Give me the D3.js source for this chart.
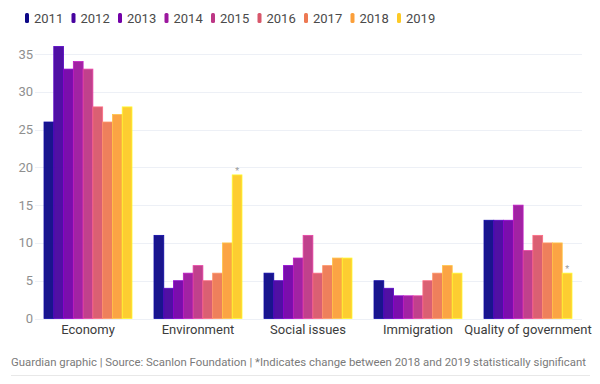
<!DOCTYPE html>
<meta charset="utf-8">
<style>

body {
  margin: 0;
  background: #fff;
  font-family: Roboto, "Liberation Sans", sans-serif;
}

.grid line {
  stroke: #edf0f6;
  stroke-width: 1px;
}

.ytick {
  fill: #8f8f8f;
  font-size: 13px;
}

.cat {
  fill: #3c3c3c;
  font-size: 13px;
}

.legend text {
  fill: #4a4a4a;
  font-size: 13px;
}

.footer {
  fill: #7a7a7a;
  font-size: 11.5px;
}

</style>
<body>
<script src="https://d3js.org/d3.v7.min.js"></script>
<script>

var width = 600,
    height = 384;

var years = ["2011", "2012", "2013", "2014", "2015", "2016", "2017", "2018", "2019"];
var categories = ["Economy", "Environment", "Social issues", "Immigration", "Quality of government"];

// one row per category, one value per year
var economy     = [26, 36, 33, 34, 33, 28, 26, 27, 28];
var environment = [11, 4, 5, 6, 7, 5, 6, 10, 19];
var social      = [6, 5, 7, 8, 11, 6, 7, 8, 8];
var immigration = [5, 4, 3, 3, 3, 5, 6, 7, 6];
var quality     = [13, 13, 13, 15, 9, 11, 10, 10, 6];

var yTicks = [0, 5, 10, 15, 20, 25, 30, 35];

// categories where the 2018 -> 2019 change is significant
var significant = ["Environment", "Quality of government"];

var colours = ["#0d0887", "#47039f", "#7301a8", "#9c179e", "#bd3786",
               "#d8576b", "#ed7953", "#fb9f3a", "#fdca26"];

var rows = [economy, environment, social, immigration, quality];

var svg = d3.select("body").append("svg")
    .attr("width", width)
    .attr("height", height);

var x0 = d3.scaleBand()
    .domain(categories)
    .range([33, 583])
    .paddingInner(0.2)
    .paddingOuter(0.1);

var x1 = d3.scaleBand()
    .domain(years)
    .range([0, x0.bandwidth()]);

var y = d3.scaleLinear()
    .domain([0, 35])
    .range([318.5, 54]);

var colour = d3.scaleOrdinal()
    .domain(years)
    .range(colours);

// gridlines
svg.append("g")
    .attr("class", "grid")
  .selectAll("line")
  .data(yTicks)
  .enter().append("line")
    .attr("x1", 35)
    .attr("x2", 582)
    .attr("y1", function(d) { return Math.round(y(d)) + 0.5; })
    .attr("y2", function(d) { return Math.round(y(d)) + 0.5; });

svg.append("g")
  .selectAll("text")
  .data(yTicks)
  .enter().append("text")
    .attr("class", "ytick")
    .attr("x", 33)
    .attr("y", function(d) { return y(d) + 4.5; })
    .attr("text-anchor", "end")
    .text(function(d) { return d; });

// bars
var group = svg.append("g")
  .selectAll("g")
  .data(categories)
  .enter().append("g")
    .attr("transform", function(d) { return "translate(" + x0(d) + ",0)"; });

group.selectAll("rect")
  .data(function(d, i) {
    return years.map(function(yr, j) { return {year: yr, value: rows[i][j]}; });
  })
  .enter().append("rect")
    .attr("x", function(d) { return x1(d.year); })
    .attr("y", function(d) { return y(d.value); })
    .attr("width", x1.bandwidth())
    .attr("height", function(d) { return y(0) - y(d.value); })
    .attr("fill", function(d) { return colour(d.year); })
    .attr("fill-opacity", 0.95)
    .attr("stroke", function(d) { return d3.color(colour(d.year)).brighter(0.6); })
    .attr("stroke-width", 0.8);

// asterisks on 2019 bars
group.filter(function(d) { return significant.indexOf(d) >= 0; })
  .append("text")
    .attr("x", x1("2019") + x1.bandwidth() / 2)
    .attr("y", function(d) {
      var row = rows[categories.indexOf(d)];
      return y(row[8]) - 1;
    })
    .attr("text-anchor", "middle")
    .attr("fill", "#999")
    .style("font-size", "9px")
    .text("*");

// category labels
svg.append("g")
  .selectAll("text")
  .data(categories)
  .enter().append("text")
    .attr("class", "cat")
    .attr("x", function(d) { return x0(d) + x0.bandwidth() / 2; })
    .attr("y", 334)
    .attr("text-anchor", "middle")
    .text(function(d) { return d; });

// legend
var legend = svg.append("g")
    .attr("class", "legend")
  .selectAll("g")
  .data(years)
  .enter().append("g")
    .attr("transform", function(d, i) { return "translate(" + (25 + i * 46.5) + ",0)"; });

legend.append("rect")
    .attr("x", 0)
    .attr("y", 13)
    .attr("width", 4)
    .attr("height", 10)
    .attr("rx", 1.5)
    .attr("fill", function(d) { return colour(d); });

legend.append("text")
    .attr("x", 9)
    .attr("y", 23)
    .text(function(d) { return d; });

// footer
svg.append("text")
    .attr("class", "footer")
    .attr("x", 11)
    .attr("y", 366)
    .attr("textLength", 575)
    .attr("lengthAdjust", "spacingAndGlyphs")
    .text("Guardian graphic | Source: Scanlon Foundation | *Indicates change between 2018 and 2019 statistically significant");

svg.append("line")
    .attr("x1", 11)
    .attr("x2", 590)
    .attr("y1", 375.5)
    .attr("y2", 375.5)
    .attr("stroke", "#e8e8e8");

</script>
